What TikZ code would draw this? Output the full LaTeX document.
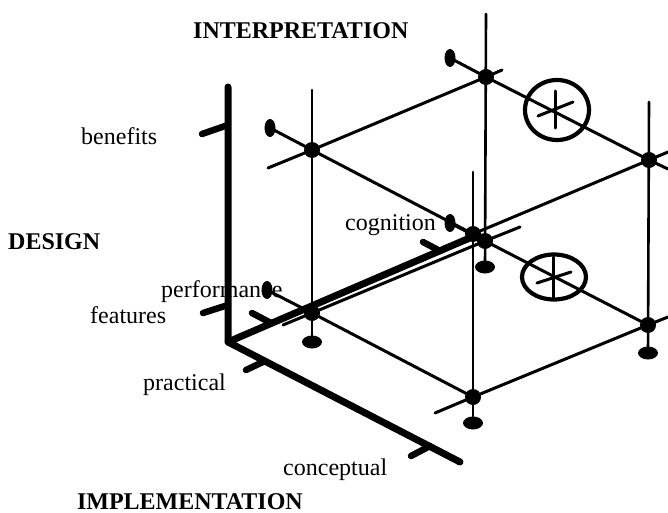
\documentclass[tikz,border=0pt]{standalone}
\usepackage{fontspec}
\setmainfont{Liberation Serif}
\usetikzlibrary{shapes.geometric}
\begin{document}
\begin{tikzpicture}[x=1pt,y=-1pt, line cap=round, line join=round,
  cubeline/.style={line width=3pt},
  vline/.style={line width=2.6pt},
  axisline/.style={line width=7pt},
  tickline/.style={line width=6.5pt},
  dot/.style={circle, fill, inner sep=0pt, minimum size=16pt},
  foot/.style={ellipse, fill, inner sep=0pt, minimum width=20pt, minimum height=13pt},
  blob/.style={ellipse, fill, inner sep=0pt, minimum width=11pt, minimum height=18pt},
  ring/.style={ellipse, draw, line width=4.2pt, inner sep=0pt},
  star/.style={line width=3pt},
  lab/.style={anchor=base west, inner sep=0pt, font=\fontsize{24}{28}\selectfont},
  blab/.style={inner sep=0pt, font=\fontsize{24}{28}\selectfont\bfseries}]
\useasboundingbox (0,0) rectangle (668,513);

% axes
\coordinate (O) at (228,342);
\coordinate (Vtop) at (228,87);
\coordinate (Uend) at (472,237);
\coordinate (Vend) at (460,462);
\draw[axisline] (Vtop) -- (O) -- (Vend);
\draw[axisline] (O) -- (Uend);
% ticks
\coordinate (tB1) at (228,125); \coordinate (tB2) at (202,134);
\coordinate (tF1) at (228,305); \coordinate (tF2) at (203,313);
\coordinate (tP1) at (265,361); \coordinate (tP2) at (246,370);
\coordinate (tC1) at (430,446); \coordinate (tC2) at (411,456);
\coordinate (tPe1) at (271,323); \coordinate (tPe2) at (252,313);
\coordinate (tCo1) at (440,251); \coordinate (tCo2) at (423,242);
\foreach \a/\b in {tB1/tB2,tF1/tF2,tP1/tP2,tC1/tC2,tPe1/tPe2,tCo1/tCo2}
  \draw[tickline] (\a) -- (\b);

% cube points
\coordinate (BL) at (312,313);
\coordinate (BB) at (485,241);
\coordinate (BF) at (473,397);
\coordinate (BR) at (648,325);
\coordinate (TL) at (312,150);
\coordinate (TB) at (486,77);
\coordinate (TF) at (473,234);
\coordinate (TR) at (649,160);

% vertical posts
\coordinate (TLup) at (312,90);   \coordinate (BLft) at (312,342);
\coordinate (TBup) at (486,14);   \coordinate (BBft) at (485,267);
\coordinate (TFup) at (473,172);  \coordinate (BFft) at (473,423);
\coordinate (TRup) at (649,102);  \coordinate (BRft) at (648,353);
\draw[vline] (TLup) -- (BLft);
\draw[vline] (TBup) -- (BBft);
\draw[vline] (TFup) -- (BFft);
\draw[vline] (TRup) -- (BRft);

% free ends of extended edges
\coordinate (TLx) at (268,168);
\coordinate (TBx) at (502,70);
\coordinate (TBb) at (450,58);
\coordinate (TRx1) at (668,169);
\coordinate (TRx2) at (668,152);
\coordinate (TLb) at (270,128);
\coordinate (BLx) at (283,325);
\coordinate (BBx) at (520,227);
\coordinate (BBb) at (450,223);
\coordinate (BLb) at (267,290);
\coordinate (BFx) at (435,413);
\coordinate (BRx) at (668,317);

% top face
\draw[cubeline] (TLx) -- (TL) -- (TB) -- (TBx);
\draw[cubeline] (TBb) -- (TB) -- (TR) -- (TRx1);
\draw[cubeline] (TLb) -- (TL) -- (TF);
\draw[cubeline] (TF) -- (TR) -- (TRx2);
% bottom face
\draw[cubeline] (BLx) -- (BL) -- (BB) -- (BBx);
\draw[cubeline] (BBb) -- (BB) -- (BR);
\draw[cubeline] (BLb) -- (BL) -- (BF);
\draw[cubeline] (BFx) -- (BF) -- (BR) -- (BRx);

% dots
\foreach \p in {TL,TB,TF,TR,BL,BB,BF,BR}
  \node[dot] (d\p) at (\p) {};
% blobs at extended ends
\foreach \p in {TBb,TLb,BBb,BLb}
  \node[blob] (n\p) at (\p) {};
% feet
\foreach \p in {BLft,BBft,BFft,BRft}
  \node[foot] (n\p) at (\p) {};

% circled asterisks
\node[ring, minimum width=64pt, minimum height=60pt] (ringA) at (557,110) {};
\draw[star] (ringA.center) ++(-2,-19) coordinate (sa1) -- ++(0,37) coordinate (sa2);
\draw[star] (ringA.center) ++(-19,6) coordinate (sa3) -- ++(35,-14) coordinate (sa4);
\node[ring, minimum width=64pt, minimum height=45pt] (ringB) at (554,277) {};
\draw[star] (ringB.center) ++(-1,-20) coordinate (sb1) -- ++(0,41) coordinate (sb2);
\draw[star] (ringB.center) ++(-17,6) coordinate (sb3) -- ++(34,-11) coordinate (sb4);

% labels
\node[blab, anchor=base west] (interp) at (193,39) {INTERPRETATION};
\node[lab] (benefits) at (81,145) {benefits};
\node[blab, anchor=base west] (design) at (8,249) {DESIGN};
\node[lab] (perf) at (161,297) {performance};
\node[lab] (feat) at (90,323) {features};
\node[lab] (pract) at (143,390) {practical};
\node[lab] (concept) at (283,475) {conceptual};
\node[lab] (cogn) at (345,230) {cognition};
\node[blab, anchor=base east] (impl) at (303,509) {IMPLEMENTATION};
\end{tikzpicture}
\end{document}
